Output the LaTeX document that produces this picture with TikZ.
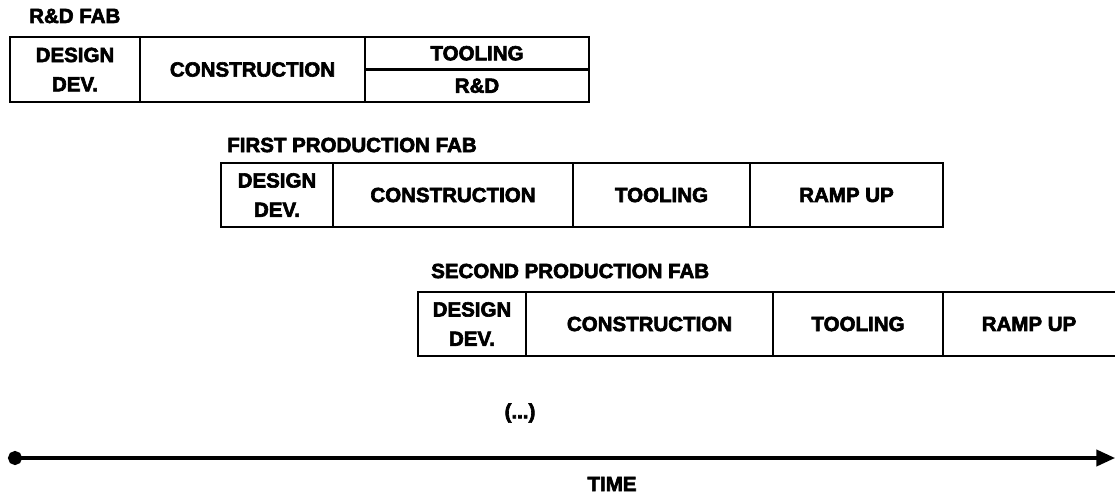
\documentclass[tikz,border=0pt]{standalone}
\usepackage{fontspec}
\setmainfont{Liberation Sans}[BoldFeatures={FakeBold=3}]
\usepackage{tikz}
\usetikzlibrary{arrows.meta,positioning}
\tikzset{
  cell/.style={rectangle,draw,line width=1.8pt,outer sep=0pt,inner sep=0pt,
    align=center,font=\fontsize{17.5}{25}\selectfont\bfseries},
  fablbl/.style={anchor=west,inner sep=0pt,font=\fontsize{17.5}{18}\selectfont\bfseries},
  tarr/.style={{Circle[length=12pt]}-{Triangle[length=16pt,width=14pt]},line width=2.6pt},
}

\begin{document}
\begin{tikzpicture}[x=0.03cm,y=-0.03cm]
\useasboundingbox (0,0) rectangle (1115,495);

% R&D fab
\node[fablbl] (rdlbl) at (29,16) {R\&D FAB};
\node[cell,minimum width=3.9cm,minimum height=1.95cm,anchor=north west] (rd1) at (10,37) {DESIGN\\DEV.};
\node[cell,minimum width=6.75cm,minimum height=1.95cm,right=0pt of rd1] (rd2) {CONSTRUCTION};
\node[cell,minimum width=6.72cm,minimum height=0.975cm,anchor=north west] (rd3) at (rd2.north east) {TOOLING};
\node[cell,minimum width=6.72cm,minimum height=0.975cm,below=0pt of rd3] (rd4) {R\&D};

% first production fab
\node[fablbl] (fplbl) at (227,145) {FIRST PRODUCTION FAB};
\node[cell,minimum width=3.36cm,minimum height=1.92cm,anchor=north west] (fp1) at (221,163) {DESIGN\\DEV.};
\node[cell,minimum width=7.2cm,minimum height=1.92cm,right=0pt of fp1] (fp2) {CONSTRUCTION};
\node[cell,minimum width=5.31cm,minimum height=1.92cm,right=0pt of fp2] (fp3) {TOOLING};
\node[cell,minimum width=5.79cm,minimum height=1.92cm,right=0pt of fp3] (fp4) {RAMP UP};

% second production fab
\node[fablbl] (splbl) at (431,271) {SECOND PRODUCTION FAB};
\node[cell,minimum width=3.24cm,minimum height=1.92cm,anchor=north west] (sp1) at (418,292) {DESIGN\\DEV.};
\node[cell,minimum width=7.41cm,minimum height=1.92cm,right=0pt of sp1] (sp2) {CONSTRUCTION};
\node[cell,minimum width=5.1cm,minimum height=1.92cm,right=0pt of sp2] (sp3) {TOOLING};
\node[cell,draw=none,minimum width=5.16cm,minimum height=1.92cm,right=0pt of sp3] (sp4) {RAMP UP};
\draw[line width=1.8pt] (sp4.north west) -- (sp4.north east) (sp4.south west) -- (sp4.south east);

\node[fablbl,anchor=center] (more) at (520,413) {(...)};

% time axis
\coordinate (t0) at (8,458);
\coordinate (t1) at (1115,458);
\draw[tarr] (t0) -- (t1);
\node[fablbl,anchor=center] (time) at (612,484) {TIME};
\end{tikzpicture}
\end{document}
